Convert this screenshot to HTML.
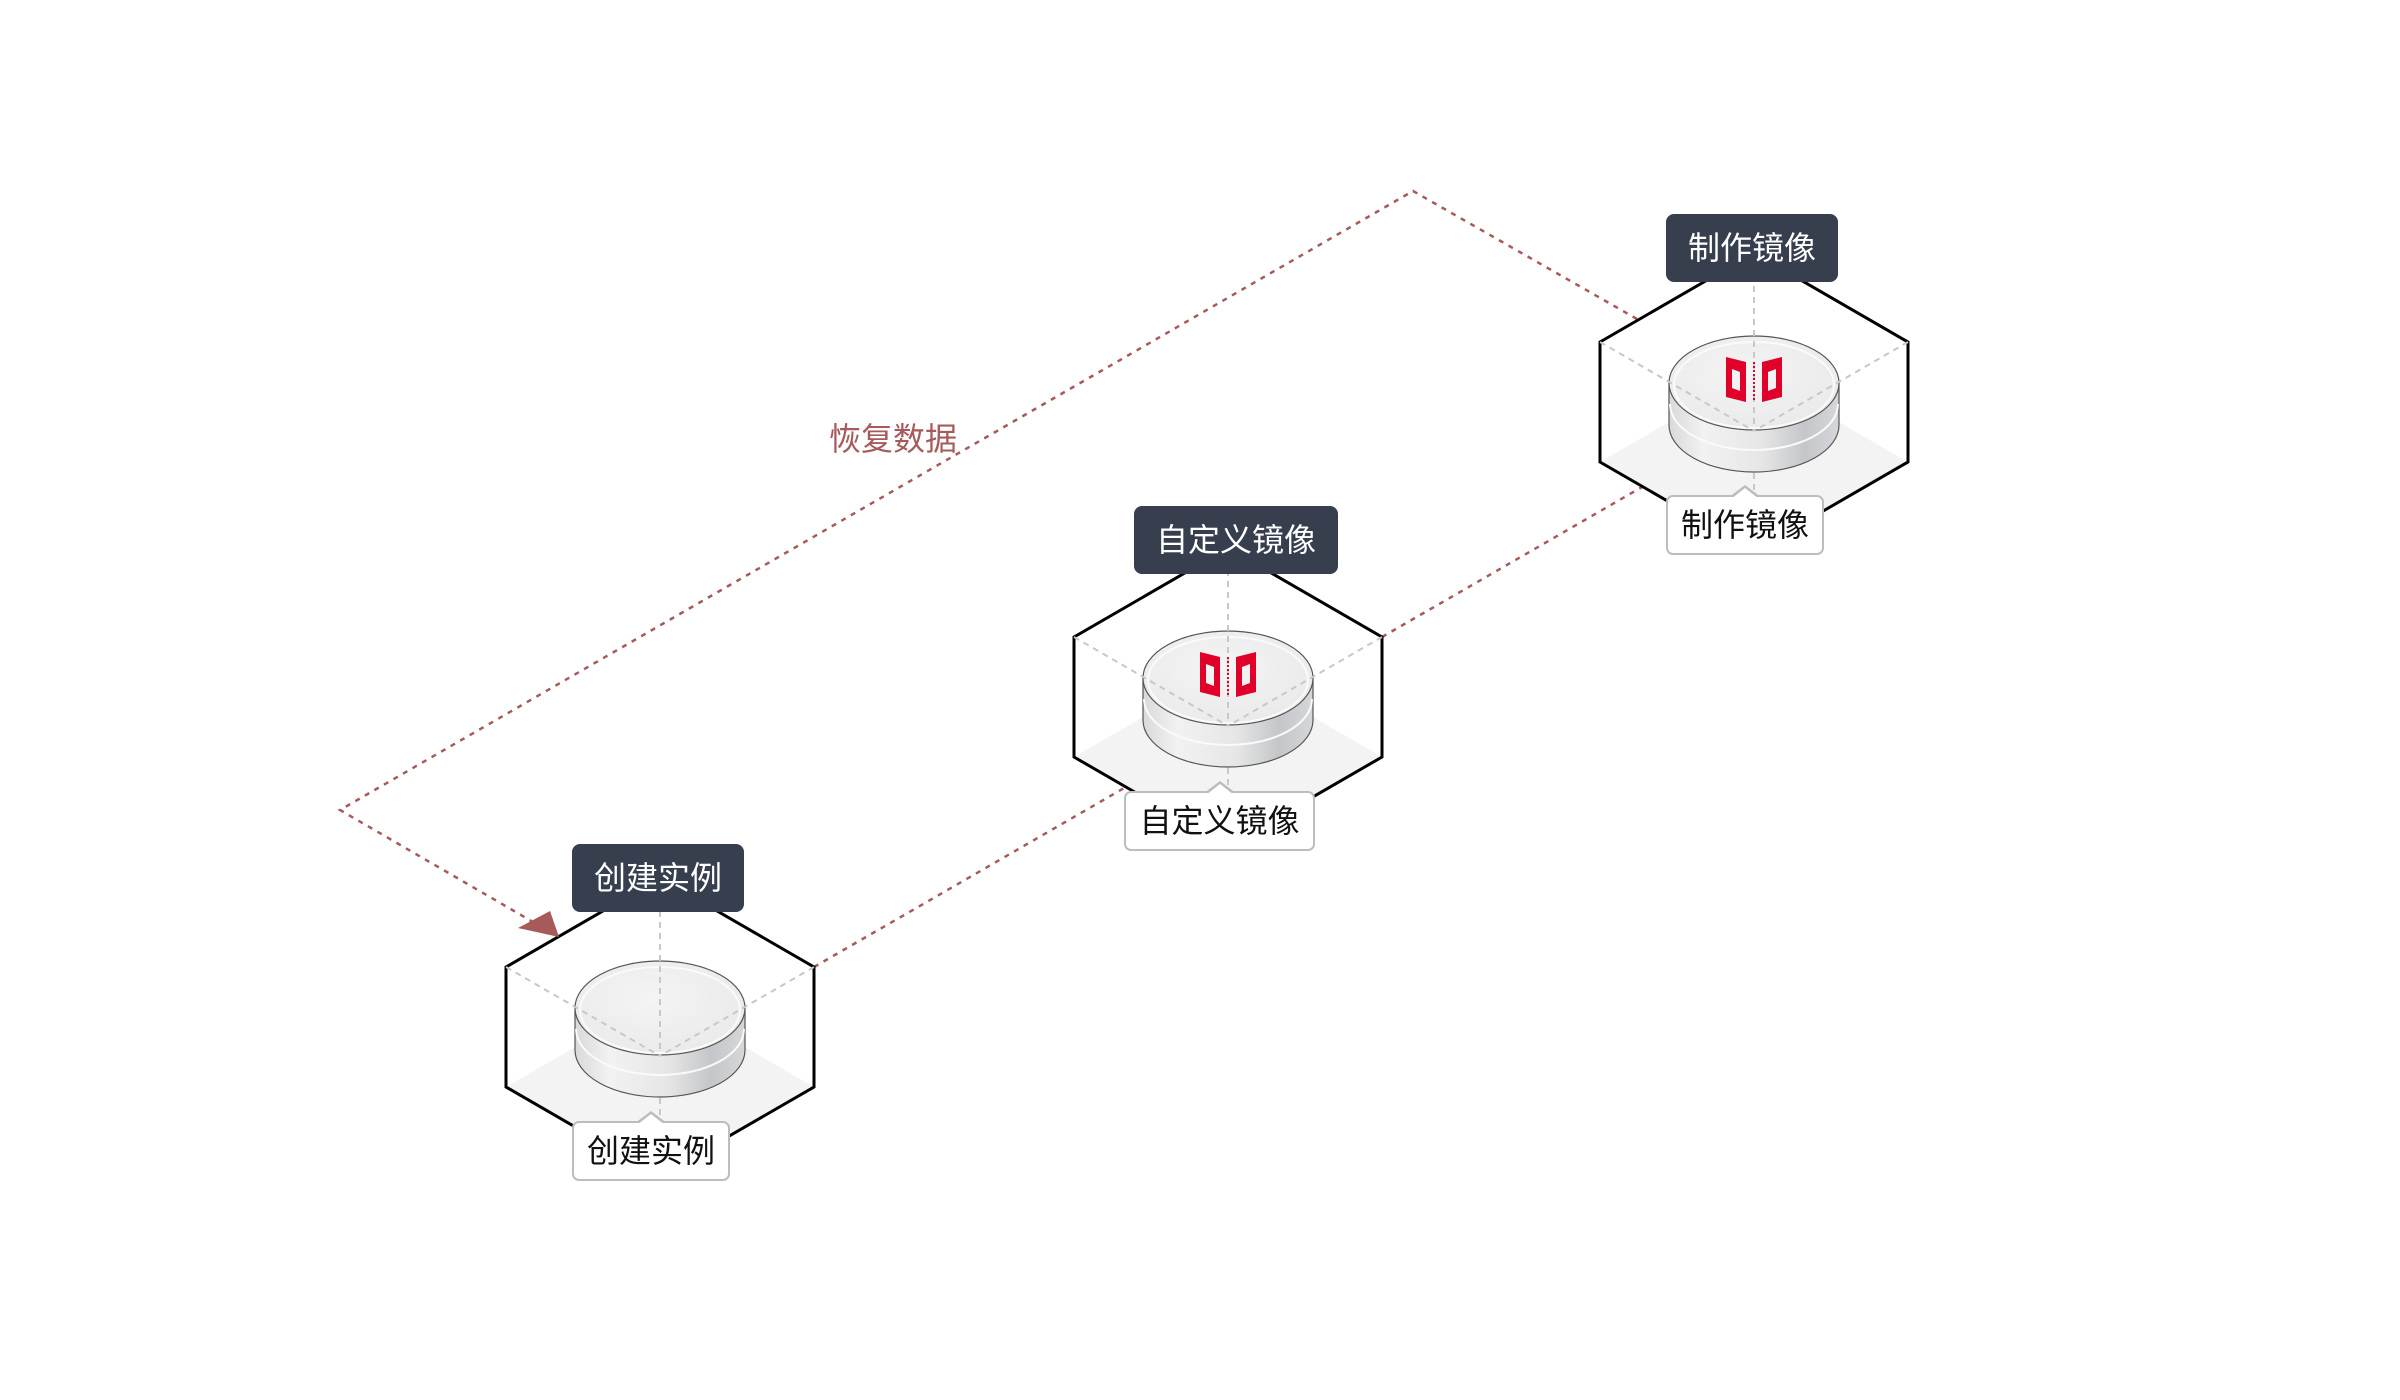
<!DOCTYPE html>
<html><head><meta charset="utf-8">
<style>
html,body{margin:0;padding:0;background:#fff;}
body{width:2400px;height:1400px;position:relative;overflow:hidden;font-family:"Liberation Sans","Noto Sans CJK SC",sans-serif;}
.dk{position:absolute;background:#373f4f;color:#fff;border-radius:8px;font-size:32px;text-align:center;line-height:68px;height:68px;}
.lt{position:absolute;background:#fff;border:2px solid #bdbdbd;border-radius:7px;color:#111;font-size:32px;text-align:center;line-height:56px;height:56px;box-sizing:content-box;}
.lt:before{content:"";position:absolute;left:50%;top:-12px;margin-left:-16px;width:0;height:0;border-left:16px solid transparent;border-right:16px solid transparent;border-bottom:12px solid #bdbdbd;}
.lt:after{content:"";position:absolute;left:50%;top:-9px;margin-left:-14px;width:0;height:0;border-left:14px solid transparent;border-right:14px solid transparent;border-bottom:11px solid #fff;}
.rl{position:absolute;left:829px;top:414px;font-size:32px;color:#a65a5a;}
</style></head><body>
<svg width="2400" height="1400" style="position:absolute;left:0;top:0">
<defs>
<linearGradient id="side" x1="0" x2="1" y1="0" y2="0">
<stop offset="0" stop-color="#d9d9d9"/><stop offset="0.2" stop-color="#f2f2f2"/><stop offset="0.55" stop-color="#e6e6e6"/><stop offset="0.8" stop-color="#c4c6c9"/><stop offset="1" stop-color="#d6d7d9"/>
</linearGradient>
<radialGradient id="top" cx="0.45" cy="0.4" r="0.7">
<stop offset="0" stop-color="#f4f4f4"/><stop offset="0.8" stop-color="#ebebeb"/><stop offset="1" stop-color="#dedede"/>
</radialGradient>
<g id="node">
<polygon points="-154,120 0,31 154,120 0,209" fill="#f3f3f3"/>
<polygon points="-154,0 0,-89 154,0 154,120 0,209 -154,120" fill="none" stroke="#000" stroke-width="3"/>
<line x1="0" y1="-89" x2="0" y2="180" stroke="#c8c8c8" stroke-width="2" stroke-dasharray="6,5"/>
<path d="M-85,41 L-85,83 A85,47 0 0 0 85,83 L85,41 Z" fill="url(#side)" stroke="#555" stroke-width="1.2"/>
<path d="M-84,62 A84,46 0 0 0 84,62" fill="none" stroke="#fafafa" stroke-width="2"/>
<ellipse cx="0" cy="41" rx="85" ry="47" fill="url(#top)" stroke="#555" stroke-width="1.2"/>
<ellipse cx="0" cy="43" rx="80" ry="43" fill="none" stroke="#fafafa" stroke-width="2"/>
<line x1="-154" y1="0" x2="0" y2="89" stroke="#c8c8c8" stroke-width="2" stroke-dasharray="6,5"/>
<line x1="154" y1="0" x2="0" y2="89" stroke="#c8c8c8" stroke-width="2" stroke-dasharray="6,5"/>
<line x1="0" y1="-89" x2="0" y2="89" stroke="#c8c8c8" stroke-width="2" stroke-dasharray="6,5"/>
</g>
<g id="icon">
<path fill-rule="evenodd" fill="#e0002a" d="M-28,15 L-8,20 L-8,60 L-28,55 Z M-22,27 L-14,30 L-14,49 L-22,46 Z"/>
<path fill-rule="evenodd" fill="#e0002a" d="M28,15 L8,20 L8,60 L28,55 Z M22,27 L14,30 L14,49 L22,46 Z"/>
<line x1="0" y1="20" x2="0" y2="60" stroke="#e0002a" stroke-width="2" stroke-dasharray="2,2"/>
</g>
</defs>
<g fill="none" stroke="#a65a5a" stroke-width="2.5" stroke-dasharray="5,6">
<polyline points="1637,319 1413,191 340,810 552,933"/>
<line x1="814" y1="967" x2="1126" y2="787"/>
<line x1="1382" y1="637" x2="1675" y2="468"/>
</g>
<use href="#node" x="660" y="967"/>
<use href="#node" x="1228" y="637"/>
<use href="#icon" x="1228" y="637"/>
<use href="#node" x="1754" y="342"/>
<use href="#icon" x="1754" y="342"/>
<polygon points="559,937 518,928 550,911" fill="#a65a5a"/>
</svg>
<div class="rl">恢复数据</div>
<div class="dk" style="left:572px;top:844px;width:172px;">创建实例</div>
<div class="dk" style="left:1134px;top:506px;width:204px;">自定义镜像</div>
<div class="dk" style="left:1666px;top:214px;width:172px;">制作镜像</div>
<div class="lt" style="left:572px;top:1121px;width:154px;">创建实例</div>
<div class="lt" style="left:1124px;top:791px;width:187px;">自定义镜像</div>
<div class="lt" style="left:1666px;top:495px;width:154px;">制作镜像</div>
</body></html>
